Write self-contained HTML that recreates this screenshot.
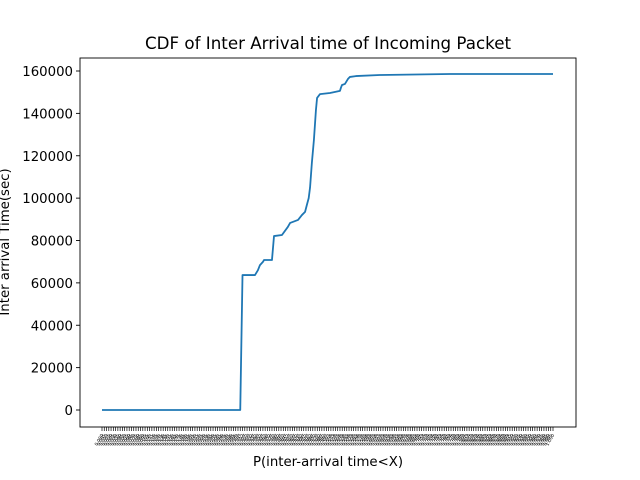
<!DOCTYPE html>
<html><head><meta charset="utf-8"><style>
html,body{margin:0;padding:0;background:#fff;}
svg{display:block;font-family:"DejaVu Sans","Liberation Sans",sans-serif;}
</style></head><body>
<svg id="chart" width="640" height="480" viewBox="0 0 640 480">
<rect width="640" height="480" fill="#fff"/>
<text x="328" y="49" text-anchor="middle" font-size="16.7" fill="#000">CDF of Inter Arrival time of Incoming Packet</text>
<text x="328" y="466" text-anchor="middle" font-size="13.3" fill="#000">P(inter-arrival time&lt;X)</text>
<text transform="translate(9,242) rotate(-90)" text-anchor="middle" font-size="13.3" fill="#000">Inter arrival Time(sec)</text>
<g id="yticks"></g>
<g id="xticks"></g>
<path id="line" fill="none" stroke="#1f77b4" stroke-width="1.8" stroke-linejoin="round"/>
<rect x="80" y="58" width="496" height="369" fill="none" stroke="#000" stroke-width="0.9"/>
</svg>
<script>
const yTickValues=[0,20000,40000,60000,80000,100000,120000,140000,160000];
const xCount=200;
const seriesX=[0,61,62,67.5,68.8,69.7,71,71.5,75,75.9,79.4,82,83,86.5,88.2,89.6,90.4,91.2,91.8,92.6,93.5,94.4,94.9,96.2,100.6,105,105.4,105.9,107.2,108.5,109.4,112,122.6,153.5,199];
const seriesY=[0,0,63700,63700,66000,68400,69900,70800,70800,82100,82600,86400,88300,89700,92000,93500,96800,100000,105000,116600,127400,141600,147300,149100,149600,150600,152000,153400,153900,156200,157200,157600,158100,158600,158600];
const NS="http://www.w3.org/2000/svg";
function X(i){return 102+i*(553-102)/(xCount-1);}
function Y(v){return 410-v*(410-71)/160000;}
const yg=document.getElementById('yticks');
yTickValues.forEach(v=>{
  const l=document.createElementNS(NS,'line');
  
  
  l.setAttribute('x1',76);l.setAttribute('x2',80);l.setAttribute('y1',Y(v));l.setAttribute('y2',Y(v));l.setAttribute('stroke','#000');l.setAttribute('stroke-width','0.9');
  yg.appendChild(l);
  const t=document.createElementNS(NS,'text');
  
  
  t.setAttribute('x',73);t.setAttribute('y',Y(v)+5);t.setAttribute('text-anchor','end');t.setAttribute('font-size','13.3');
  t.textContent=v;yg.appendChild(t);
});
const xg=document.getElementById('xticks');
for(let i=0;i<xCount;i++){
  const l=document.createElementNS(NS,'line');
  
  
  l.setAttribute('x1',X(i));l.setAttribute('x2',X(i));l.setAttribute('y1',427);l.setAttribute('y2',431);l.setAttribute('stroke','#000');l.setAttribute('stroke-width','0.7');
  xg.appendChild(l);
  const t=document.createElementNS(NS,'text');
  
  
  t.setAttribute('transform','translate('+(X(i)+1.5)+',435) rotate(-60)');
  t.setAttribute('text-anchor','end');t.setAttribute('font-size','4.5');t.setAttribute('fill','#000');
  t.textContent=(i/(xCount-1)).toFixed(3);
  xg.appendChild(t);
}
let d='';
seriesX.forEach((x,k)=>{d+=(k?'L':'M')+X(x).toFixed(2)+','+Y(seriesY[k]).toFixed(2);});
document.getElementById('line').setAttribute('d',d);
</script>
</body></html>
